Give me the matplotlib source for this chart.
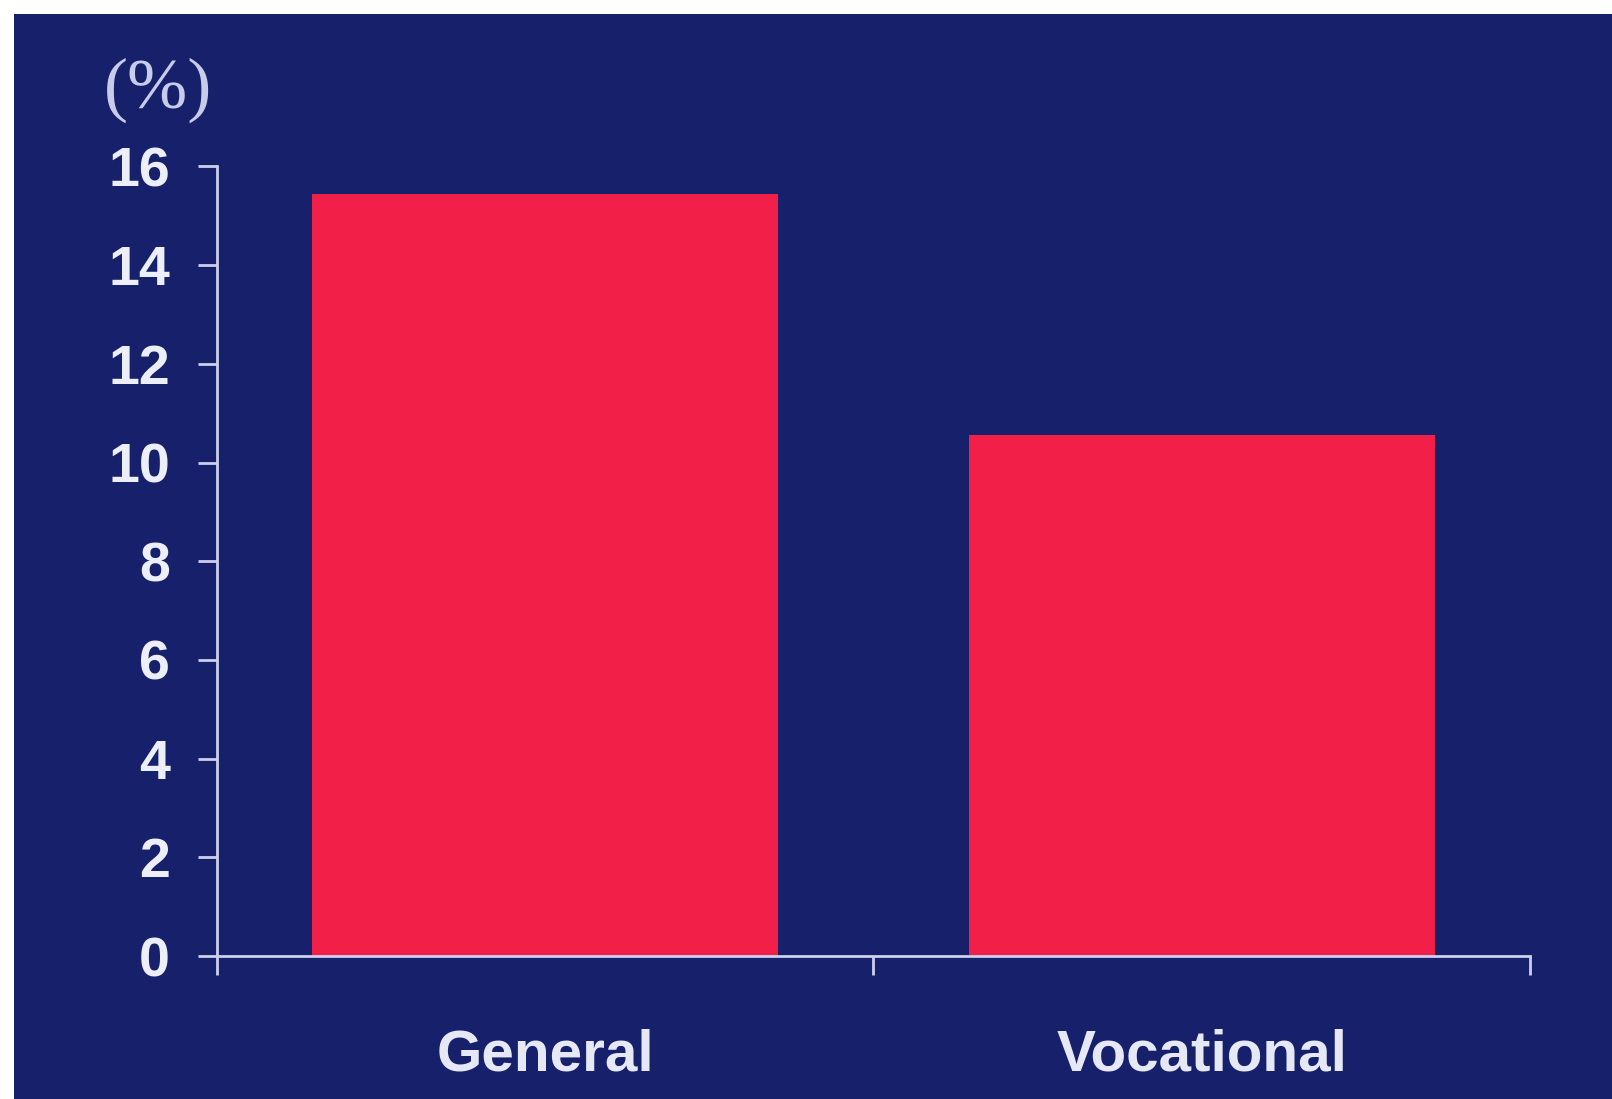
import matplotlib.pyplot as plt
from matplotlib.patches import Rectangle

categories = ['General', 'Vocational']
values = [15.45, 10.55]
y_ticks = [0, 2, 4, 6, 8, 10, 12, 14, 16]

navy = '#17216b'
red = '#f21f48'
light = '#ccd0ee'

fig = plt.figure(figsize=(16.12, 10.99), dpi=100)
fig.patch.set_facecolor('white')
# navy panel, leaving a thin white strip at top and left
fig.patches.append(Rectangle((14 / 1612, 0), 1, 1 - 14 / 1099, transform=fig.transFigure,
                             facecolor=navy, edgecolor='none', zorder=0))

ax = fig.add_axes([0.1346, 0.1301, 0.8145, 0.7184])
ax.set_zorder(2)
ax.set_facecolor('none')

pos = [0.5, 1.5]
ax.bar(pos, values, width=0.71, color=red, zorder=2)

ax.set_xlim(0, 2)
ax.set_ylim(0, 16)

for s in ['top', 'right']:
    ax.spines[s].set_visible(False)
for s in ['left', 'bottom']:
    ax.spines[s].set_color(light)
    ax.spines[s].set_linewidth(2)
    ax.spines[s].set_zorder(3)

ax.set_yticks(y_ticks)
ax.set_yticklabels([str(t) for t in y_ticks], fontsize=40, fontweight='bold',
                   color='#eceef8', family='Liberation Sans')
ax.tick_params(axis='y', direction='out', length=14, width=2, color=light, pad=20)

ax.set_xticks([0, 1, 2])
ax.set_xticklabels([])
ax.tick_params(axis='x', which='major', direction='out', length=14, width=2, color=light)
ax.set_xticks(pos, minor=True)
ax.set_xticklabels(categories, minor=True, fontsize=42, fontweight='bold',
                   color='#e6e8f6', family='Liberation Sans')
ax.tick_params(axis='x', which='minor', length=0, pad=52)

fig.text(158 / 1612, 1 - 90 / 1099, '(%)', fontsize=52, family='Liberation Serif',
         color='#c8cceb', ha='center', va='center', zorder=3)

fig.savefig('out.png', dpi=100, facecolor=fig.get_facecolor())
